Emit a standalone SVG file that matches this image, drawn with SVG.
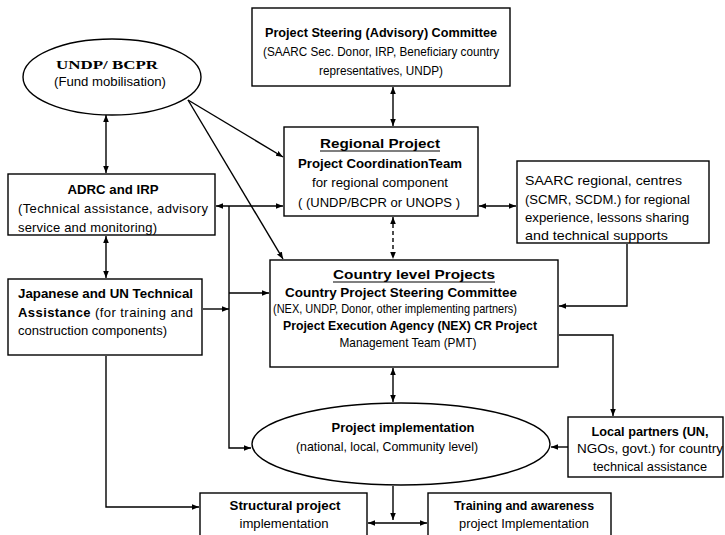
<svg xmlns="http://www.w3.org/2000/svg" width="725" height="535" viewBox="0 0 725 535">
<defs>
<marker id="ah" viewBox="0 0 10 10" refX="10" refY="5" markerWidth="7" markerHeight="7" markerUnits="userSpaceOnUse" orient="auto-start-reverse">
<path d="M0,1 L10,5 L0,9 z" fill="#000"/>
</marker>
<style>
.box{fill:#fff;stroke:#000;stroke-width:1.4}
.ln{fill:none;stroke:#000;stroke-width:1.4}
.dash{fill:none;stroke:#000;stroke-width:1.4;stroke-dasharray:4 3}
text{font-family:'Liberation Sans',Arial,sans-serif;font-size:13px;fill:#000}
.b{font-weight:bold}
.c{text-anchor:middle}
.serif{font-family:'Liberation Serif','Times New Roman',serif}
</style>
</defs>
<rect width="725" height="535" fill="#fff"/>

<g id="connectors">
<line class="ln" x1="106" y1="115" x2="106" y2="173" marker-start="url(#ah)" marker-end="url(#ah)"/>
<line class="ln" x1="106" y1="236" x2="106" y2="278" marker-start="url(#ah)" marker-end="url(#ah)"/>
<line class="ln" x1="393" y1="87" x2="393" y2="126" marker-start="url(#ah)" marker-end="url(#ah)"/>
<line class="ln" x1="188" y1="100" x2="283" y2="157" marker-end="url(#ah)"/>
<line class="ln" x1="188" y1="100" x2="283" y2="259" marker-end="url(#ah)"/>
<line class="ln" x1="216" y1="206" x2="283" y2="206" marker-start="url(#ah)" marker-end="url(#ah)"/>
<path class="ln" d="M229,206 V448 H251" marker-end="url(#ah)"/>
<line class="ln" x1="203" y1="309" x2="229" y2="309" marker-end="url(#ah)"/>
<line class="ln" x1="229" y1="293" x2="269" y2="293" marker-end="url(#ah)"/>
<line class="dash" x1="393" y1="217" x2="393" y2="259" marker-start="url(#ah)" marker-end="url(#ah)"/>
<line class="ln" x1="479" y1="206" x2="516" y2="206" marker-start="url(#ah)" marker-end="url(#ah)"/>
<path class="ln" d="M627,244 V306 H559" marker-end="url(#ah)"/>
<path class="ln" d="M559,335 H613 V416" marker-end="url(#ah)"/>
<line class="ln" x1="568" y1="447" x2="551" y2="447" marker-end="url(#ah)"/>
<line class="ln" x1="393" y1="368" x2="393" y2="402" marker-start="url(#ah)" marker-end="url(#ah)"/>
<line class="ln" x1="393" y1="486" x2="393" y2="520" marker-end="url(#ah)"/>
<line class="ln" x1="368" y1="523" x2="427" y2="523" marker-start="url(#ah)" marker-end="url(#ah)"/>
<path class="ln" d="M106,356 V507 H199" marker-end="url(#ah)"/>
</g>

<g id="undp">
<ellipse class="box" cx="112" cy="77" rx="89" ry="38"/>
<text class="b serif c" x="107" y="69" font-size="17" textLength="102" lengthAdjust="spacingAndGlyphs">UNDP/ BCPR</text>
<text class="c" x="110" y="86" textLength="112" lengthAdjust="spacingAndGlyphs">(Fund mobilisation)</text>
</g>

<g id="psc">
<rect class="box" x="252" y="8" width="258" height="78"/>
<text class="b c" x="381" y="37" textLength="232" lengthAdjust="spacingAndGlyphs">Project Steering (Advisory) Committee</text>
<text class="c" x="381" y="56" font-size="12" textLength="236" lengthAdjust="spacingAndGlyphs">(SAARC Sec. Donor, IRP, Beneficiary country</text>
<text class="c" x="381" y="75" font-size="12" textLength="124" lengthAdjust="spacingAndGlyphs">representatives, UNDP)</text>
</g>

<g id="regional">
<rect class="box" x="284" y="127" width="194" height="89"/>
<text class="b c" x="380" y="148" font-size="16" textLength="120" lengthAdjust="spacingAndGlyphs">Regional Project</text>
<line x1="320" y1="151" x2="440" y2="151" stroke="#000" stroke-width="1.2"/>
<text class="b c" x="380" y="168" textLength="164" lengthAdjust="spacingAndGlyphs">Project CoordinationTeam</text>
<text class="c" x="380" y="187" textLength="136" lengthAdjust="spacingAndGlyphs">for regional component</text>
<text class="c" x="379" y="207" textLength="162" lengthAdjust="spacingAndGlyphs">( (UNDP/BCPR or UNOPS )</text>
</g>

<g id="adrc">
<rect class="box" x="8" y="174" width="207" height="61"/>
<text class="b c" x="113" y="194" textLength="91" lengthAdjust="spacingAndGlyphs">ADRC and IRP</text>
<text x="18" y="213" textLength="190" lengthAdjust="spacing">(Technical assistance, advisory</text>
<text x="18" y="232" textLength="139" lengthAdjust="spacing">service and monitoring)</text>
</g>

<g id="saarc">
<rect class="box" x="517" y="161" width="192" height="82"/>
<text x="525" y="185" textLength="157" lengthAdjust="spacingAndGlyphs">SAARC regional, centres</text>
<text x="525" y="204" textLength="165" lengthAdjust="spacingAndGlyphs">(SCMR, SCDM.) for regional</text>
<text x="525" y="222" textLength="164" lengthAdjust="spacingAndGlyphs">experience, lessons sharing</text>
<text x="525" y="240" textLength="143" lengthAdjust="spacingAndGlyphs">and technical supports</text>
</g>

<g id="japanese">
<rect class="box" x="8" y="279" width="194" height="76"/>
<text class="b" x="18" y="298" textLength="175" lengthAdjust="spacingAndGlyphs">Japanese and UN Technical</text>
<text x="18" y="317" textLength="175" lengthAdjust="spacing"><tspan class="b">Assistance</tspan> (for training and</text>
<text x="18" y="335" textLength="149" lengthAdjust="spacingAndGlyphs">construction components)</text>
</g>

<g id="country">
<rect class="box" x="270" y="260" width="288" height="107"/>
<text class="b c" x="414" y="279" font-size="17" textLength="162" lengthAdjust="spacingAndGlyphs">Country level Projects</text>
<line x1="333" y1="282" x2="495" y2="282" stroke="#000" stroke-width="1.2"/>
<text class="b c" x="401" y="297" textLength="232" lengthAdjust="spacingAndGlyphs">Country Project Steering Committee</text>
<text class="c" x="395" y="313" font-size="10" textLength="244" lengthAdjust="spacingAndGlyphs">(NEX, UNDP, Donor, other implementing partners)</text>
<text class="b c" x="410" y="330" textLength="254" lengthAdjust="spacingAndGlyphs">Project Execution Agency (NEX) CR Project</text>
<text class="c" x="408" y="347" textLength="137" lengthAdjust="spacingAndGlyphs">Management Team (PMT)</text>
</g>

<g id="local">
<rect class="box" x="568" y="417" width="155" height="60"/>
<text class="b c" x="650" y="436" textLength="117" lengthAdjust="spacingAndGlyphs">Local partners (UN,</text>
<text class="c" x="650" y="453" textLength="146" lengthAdjust="spacingAndGlyphs">NGOs, govt.) for country</text>
<text class="c" x="650" y="471" textLength="114" lengthAdjust="spacingAndGlyphs">technical assistance</text>
</g>

<g id="implementation">
<ellipse class="box" cx="401" cy="444" rx="149" ry="41"/>
<text class="b c" x="403" y="432" textLength="143" lengthAdjust="spacingAndGlyphs">Project implementation</text>
<text class="c" x="387" y="451" textLength="182" lengthAdjust="spacingAndGlyphs">(national, local, Community level)</text>
</g>

<g id="structural">
<rect class="box" x="200" y="493" width="167" height="50"/>
<text class="b c" x="285" y="510" textLength="111" lengthAdjust="spacingAndGlyphs">Structural project</text>
<text class="c" x="284" y="528" textLength="89" lengthAdjust="spacingAndGlyphs">implementation</text>
</g>

<g id="training">
<rect class="box" x="428" y="493" width="183" height="50"/>
<text class="b c" x="524" y="510" textLength="140" lengthAdjust="spacingAndGlyphs">Training and awareness</text>
<text class="c" x="524" y="528" textLength="130" lengthAdjust="spacingAndGlyphs">project Implementation</text>
</g>
</svg>
